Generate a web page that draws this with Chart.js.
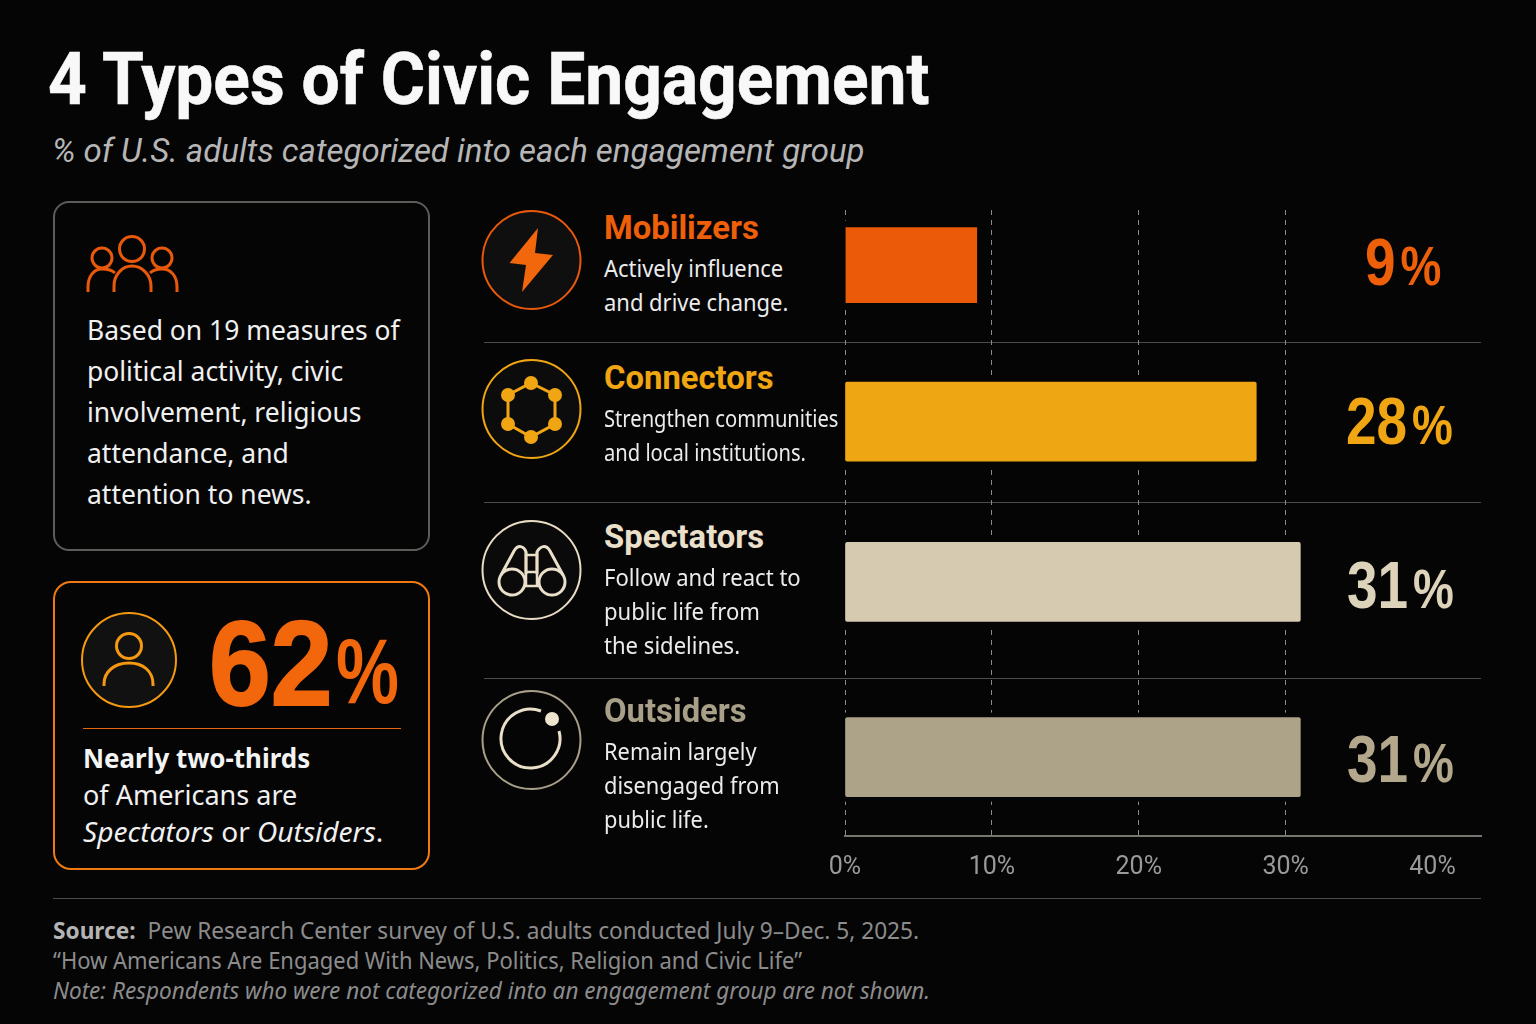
<!DOCTYPE html>
<html>
<head>
<meta charset="utf-8">
<title>4 Types of Civic Engagement</title>
<script src="https://cdn.jsdelivr.net/npm/chart.js@4"></script>
<style>
  html, body { margin: 0; padding: 0; background: #050506; }
  #page { position: relative; width: 1536px; height: 1024px; overflow: hidden; background: #050506; font-family: "Noto Sans", sans-serif; color: #f0f0f0; }
  #page > div { position: absolute; }
  .t { white-space: nowrap; transform-origin: left center; }
  .card { box-sizing: border-box; }
  .rule { height: 1px; }
  svg { position: absolute; left: 0; top: 0; }
  canvas { position: absolute; }
</style>
</head>
<body>
<div id="page">
  <div class="card" style="left:53px;top:201px;width:377px;height:350px;border:2px solid #5c5c59;border-radius:16px"></div>
  <div class="card" style="left:53px;top:581px;width:377px;height:289px;border:2px solid #f07a10;border-radius:18px"></div>
  <div class="rule" style="left:83px;top:728px;width:318px;background:#e8660c"></div>
  <div class="rule" style="left:484px;top:342px;width:997px;background:#4d4d4b"></div>
  <div class="rule" style="left:484px;top:502px;width:997px;background:#4d4d4b"></div>
  <div class="rule" style="left:484px;top:678px;width:997px;background:#4d4d4b"></div>
  <div class="rule" style="left:53px;top:898px;width:1428px;background:#4d4d4b"></div>

  <svg width="1536" height="1024" fill="none" stroke-width="3">
    <!-- people -->
    <g stroke="#e8590c">
      <circle cx="132" cy="249" r="12.5"/><circle cx="102" cy="258" r="10"/><circle cx="162" cy="258" r="10"/>
      <path d="M114 292v-6c0-11 8-20 18-20s19 9 19 20v6"/>
      <path d="M88 292v-5c0-11 6-18 14-18 5 0 10 1 13 4"/>
      <path d="M177 292v-5c0-11-6-18-15-18-5 0-9 1-12 4"/>
    </g>
    <!-- person -->
    <circle cx="129" cy="660" r="47" fill="#111" stroke="#f59a10" stroke-width="2"/>
    <g stroke="#f59a10">
      <circle cx="129" cy="646" r="12.5"/>
      <path d="M104 686v-2c0-12 10-21 25-21s24 9 24 21v2"/>
    </g>
    <!-- bolt -->
    <circle cx="531.500" cy="260" r="49" fill="#0f0f0f" stroke="#e8590c" stroke-width="2"/>
    <path d="M538 228L509.500 263L526 265L522 292L553 255L535 253Z" fill="#f2660c"/>
    <!-- hexagon -->
    <circle cx="531.500" cy="409" r="49" fill="#0c0c0c" stroke="#f0a512" stroke-width="2"/>
    <path d="M531 383L555 395V424L531 437L508 424V395Z" stroke="#f0a512"/>
    <g fill="#f0a512">
      <circle cx="531" cy="383" r="7"/><circle cx="555" cy="395" r="7"/><circle cx="555" cy="424" r="7"/>
      <circle cx="531" cy="437" r="7"/><circle cx="508" cy="424" r="7"/><circle cx="508" cy="395" r="7"/>
    </g>
    <!-- binoculars -->
    <circle cx="531.500" cy="570" r="49" fill="#0a0a0a" stroke="#e8dcc4" stroke-width="2"/>
    <g stroke="#eadfc8">
      <circle cx="512" cy="582" r="13"/><circle cx="552" cy="582" r="13"/>
      <path d="M501 575L514 551C518 544 524 546 526 552V574"/>
      <path d="M563 575L550 551C546 544 540 546 537 552V574"/>
      <path d="M526 555H537M526 572H537M525 586H539M526 552V586M537 552V586" stroke-width="2.500"/>
    </g>
    <!-- outsider -->
    <circle cx="531.500" cy="740" r="49" stroke="#a89f88" stroke-width="2"/>
    <path d="M541 711A29.500 29.500 0 1 0 559 731" stroke="#eadfc8"/>
    <circle cx="552" cy="719" r="7" fill="#eee3cc"/>
  </svg>

  <canvas id="barChart" style="left:800px;top:200px" width="700" height="700"></canvas>
</div>

<script>
// ─── Data ─────────────────────────────────────────────────────────────────────
const categories = ["Mobilizers", "Connectors", "Spectators", "Outsiders"];
const shares = [9, 28, 31, 31];
const tickValues = [0, 10, 20, 30, 40];
const barColors = ["#ea5a08", "#eea613", "#d6cab0", "#ada388"];
const labelColors = ["#ee5f0a", "#f0a512", "#ddd2ba", "#b3a88c"];
const nameColors = ["#ee5f0a", "#f0a512", "#eadfc8", "#a89f88"];
const descriptions = [
  ["Actively influence", "and drive change."],
  ["Strengthen communities", "and local institutions."],
  ["Follow and react to", "public life from", "the sidelines."],
  ["Remain largely", "disengaged from", "public life."],
];

// where each category's centre sits down the plot (rows are not evenly spaced)
const ROW_CENTRES = [0.088, 0.338, 0.594, 0.874];

// ─── Text ─────────────────────────────────────────────────────────────────────
const page = document.getElementById("page");

function put(html, x, y, font, color, squeeze) {
  const el = document.createElement("div");
  el.className = "t";
  el.innerHTML = html;
  el.style.left = x + "px";
  el.style.top = y + "px";
  el.style.font = font;
  el.style.color = color;
  el.style.transform = `translateY(-50%) scaleX(${squeeze || 1})`;
  page.appendChild(el);
  return el;
}

const BODY = '"Noto Sans", sans-serif';
const HEAD = 'Roboto, sans-serif';
const NUM = '"Liberation Sans", sans-serif';

put("4 Types of Civic Engagement", 48, 79, `700 72px ${HEAD}`, "#f8f8f8", 0.94).style.webkitTextStroke = "0.6px #f8f8f8";
put("% of U.S. adults categorized into each engagement group", 52, 150, `italic 400 33px ${HEAD}`, "#b6b6b6", 1.0);

["Based on 19 measures of", "political activity, civic", "involvement, religious", "attendance, and", "attention to news."]
  .forEach((line, i) => put(line, 87, 329 + i * 41, `400 28px ${BODY}`, "#f0f0f0", 0.945));

put("62", 209, 663, `700 120px ${NUM}`, "#f2660c", 0.925).style.webkitTextStroke = "2px #f2660c";
put("%", 336, 671, `700 92px ${NUM}`, "#f2660c", 0.77);
put("Nearly two-thirds", 83, 757, `700 27px ${BODY}`, "#f4f4f4", 0.96);
put("of Americans are", 83, 794, `400 27px ${BODY}`, "#f0f0f0", 1.0);
put("<i>Spectators</i> or <i>Outsiders</i>.", 83, 831, `400 27px ${BODY}`, "#f0f0f0", 1.04);

const nameY = [227, 377, 536, 710];
const descY = [267, 417, 576, 750];
const descSqueeze = [0.915, 0.84, 0.92, 0.91];
const valueY = [261, 420, 584, 758];
const valueLeft = [1365, 1346, 1347, 1347];

categories.forEach((name, i) => {
  put(name, 604, nameY[i], `700 34px ${HEAD}`, nameColors[i], 0.965);
  descriptions[i].forEach((line, j) => put(line, 604, descY[i] + j * 34.2, `400 24px ${BODY}`, "#ececec", descSqueeze[i]));
  put(`${shares[i]}<span style="font-size:56px;margin-left:6px">%</span>`,
    valueLeft[i], valueY[i], `700 67px ${NUM}`, labelColors[i], 0.82);
});

put('<b style="color:#b4b4b4">Source:</b>&nbsp; Pew Research Center survey of U.S. adults conducted July 9–Dec. 5, 2025.', 53, 930, `400 23px ${BODY}`, "#8c8c8c", 0.985);
put("“How Americans Are Engaged With News, Politics, Religion and Civic Life”", 53, 960, `400 23px ${BODY}`, "#8c8c8c", 0.955);
put("<i>Note: Respondents who were not categorized into an engagement group are not shown.</i>", 53, 990, `400 23px ${BODY}`, "#8c8c8c", 0.98);

// ─── Chart ────────────────────────────────────────────────────────────────────
// category scale that places rows at ROW_CENTRES instead of evenly
class RowScale extends Chart.CategoryScale {
  getPixelForValue(value) {
    const index = typeof value === "number" ? value : this.parse(value);
    return this.getPixelForDecimal(ROW_CENTRES[index]);
  }
}
RowScale.id = "rows";
RowScale.defaults = Chart.CategoryScale.defaults;
Chart.register(RowScale);

// clears a little space round each bar so the dashed lines stop short of it
const barHalo = {
  id: "barHalo",
  beforeDatasetsDraw(chart) {
    const ctx = chart.ctx;
    ctx.save();
    ctx.fillStyle = "#050506";
    chart.getDatasetMeta(0).data.forEach(bar => {
      ctx.fillRect(bar.base - 2, bar.y - bar.height / 2 - 5, bar.x - bar.base + 2, bar.height + 10);
    });
    ctx.restore();
  }
};

new Chart(document.getElementById("barChart"), {
  type: "bar",
  plugins: [barHalo],
  data: {
    labels: categories,
    datasets: [{
      data: shares,
      backgroundColor: barColors,
      barThickness: 79,
      borderRadius: 2,
      borderSkipped: false,
      borderColor: "transparent",
      borderWidth: ctx => ctx.dataIndex === 0 ? { top: 2, bottom: 2 } : 0,
    }]
  },
  options: {
    indexAxis: "y",
    responsive: false,
    animation: false,
    layout: { padding: { left: 45, right: 19, top: 10, bottom: 0 } },
    plugins: { legend: { display: false }, tooltip: { enabled: false } },
    scales: {
      x: {
        type: "linear",
        min: 0,
        max: 43.3,
        afterBuildTicks: scale => { scale.ticks = tickValues.map(value => ({ value })); },
        ticks: {
          color: "#9a9a9a",
          padding: 17,
          maxRotation: 0,
          font: { family: "Roboto", size: 25 },
          callback: v => v + "%",
        },
        grid: {
          drawTicks: false,
          color: ctx => ctx.tick && ctx.tick.value === 40 ? "transparent" : "#8a8a88",
          lineWidth: 1,
        },
        border: { display: true, color: "#77756f", width: 2, dash: [5, 5] },
      },
      y: {
        type: "rows",
        display: false,
        grid: { display: false },
      }
    }
  },
});
</script>
</body>
</html>
